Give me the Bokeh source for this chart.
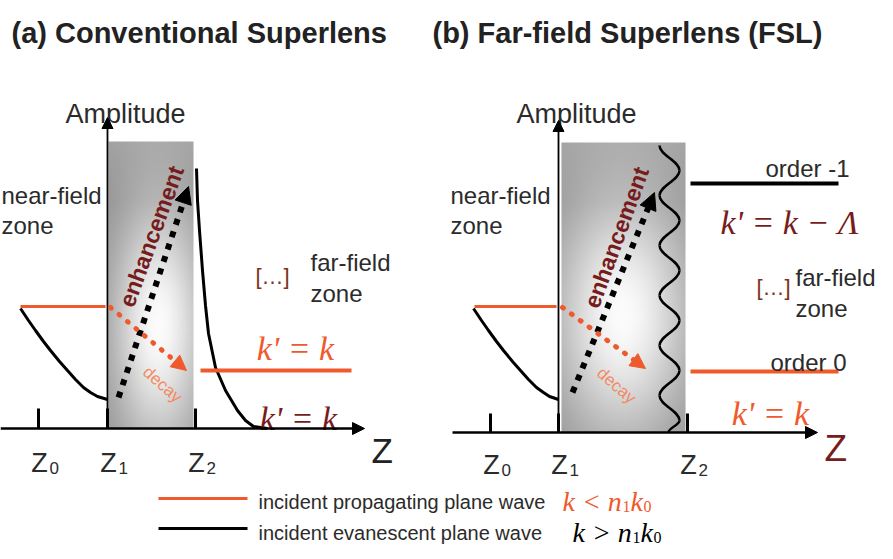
import numpy as np
from bokeh.plotting import figure
from bokeh.models import Range1d, Arrow, NormalHead
from bokeh.core.properties import value
from bokeh.embed import file_html
from bokeh.resources import INLINE

# ---------------- data (diagram coordinates) ----------------
titles = ["(a) Conventional Superlens", "(b) Far-field Superlens (FSL)"]
title_x = [11, 432]
title_y = [32, 32]

# amplitude axis (vertical) and Z axis (horizontal) per panel
amp_axis_x = [107, 558]
amp_axis_top = [117, 120]
z_axis_y = [428, 432]
z_axis_start = [0, 452]
z_axis_end = [364, 817]
amp_label_x = [125, 576]
amp_label_y = [113, 113]

# Z ticks
z_tick_a = [38, 107, 195]
z_tick_b = [490, 558, 687]
tick_top = [408, 413]
z_sub = ["0", "1", "2"]
z_label_y = [462, 464]

# big Z axis label
bigz_x = [371, 824]
bigz_y = [450, 448]

# slabs (lens)
slab_x0 = [108, 561]
slab_x1 = [193, 685]
slab_y0 = [141, 142]
slab_y1 = [428, 432]
slab_spot_x = [158, 622]
slab_spot_y = [325, 315]

# incident evanescent wave (black decay curve, left of lens)
ev_a_x = [20, 28, 35, 43, 50, 59, 67, 75, 83, 90, 97, 107]
ev_a_y = [308, 320, 330, 341, 350, 361, 370, 379, 387, 392, 396, 399]
ev_b_x = [473, 481, 488, 496, 503, 512, 520, 528, 536, 543, 549, 558]
ev_b_y = [308, 320, 330, 341, 350, 361, 370, 379, 387, 392, 396, 399]

# transmitted evanescent wave in (a)
tr_a_x = [196, 197, 199, 202, 205, 208, 215, 225, 237, 245, 253, 267]
tr_a_y = [168, 200, 230, 270, 305, 333, 367, 390, 410, 420, 426, 428]

# incident propagating wave (red level, left of lens)
prop_in_x0 = [20, 474]
prop_in_x1 = [105, 556]
prop_in_y = [306, 306]

# outgoing lines right of lens
out_red_x0 = [200, 690]
out_red_x1 = [351, 838]
out_red_y = [370, 371]
order1_x0 = [690]
order1_x1 = [838]
order1_y = [183]

# wave (grating) in (b): extreme points of the squiggle
wave_ext_y = [145, 170, 195, 220, 245, 270, 295, 320, 345, 370, 395, 420]
wave_ext_x = [659, 679, 659, 679, 659, 679, 659, 679, 659, 679, 659, 679]
wave_end = (668, 432)

# dotted arrows: enhancement (black) and decay (red)
enh_x0 = [118, 572]
enh_y0 = [397, 392]
enh_x1 = [188, 654]
enh_y1 = [186, 192]
dec_x0 = [110, 562]
dec_y0 = [307, 307]
dec_x1 = [186, 645]
dec_y1 = [370, 368]

enh_text_x = [151, 616]
enh_text_y = [236, 237]
dec_text_x = [162, 616]
dec_text_y = [384, 385]

# text labels
near_x = [1, 450]
near_y = [195, 195]
far_x = [310, 795]
far_y = [262, 277]
dots_x = [272, 773]
dots_y = [276, 287]

# legend
leg_x0 = 158
leg_x1 = 247
leg_y = [498, 528]
leg_text = ["incident propagating plane wave", "incident evanescent plane wave"]
leg_text_y = [501, 532]
leg_formula_main = ["k < n", "k > n"]
leg_formula_x = [562, 572]

RED = "#ef5a2c"
MAROON = "#761c1c"
TXT = "#2b2b2b"
SANS = value("Liberation Sans")
SERIF = value("Liberation Serif")

p = figure(width=893, height=559, x_range=Range1d(0, 893), y_range=Range1d(559, 0),
           output_backend="svg", toolbar_location=None, min_border=0,
           x_axis_location=None, y_axis_location=None)
p.grid.visible = False
p.outline_line_color = None
p.background_fill_color = "white"
p.border_fill_color = "white"

# ---------------- slabs with radial gradient ----------------
for i in range(2):
    x0, x1, y0, y1 = slab_x0[i], slab_x1[i], slab_y0[i], slab_y1[i]
    w, h = int(x1 - x0), int(y1 - y0)
    X, Y = np.meshgrid(x0 + np.arange(w) + 0.5, y0 + np.arange(h) + 0.5)
    rx = (x1 - x0) * 0.55
    g = 140 + 112 * np.exp(-(((X - slab_spot_x[i]) / rx) ** 2 + ((Y - slab_spot_y[i]) / 125.0) ** 2))
    top = np.clip((y0 + 60 - Y) / 60.0, 0, 1)
    g = g + 18 * top
    g = np.clip(g, 0, 255).astype(np.uint8)
    img = np.empty((h, w), dtype=np.uint32)
    v = img.view(dtype=np.uint8).reshape((h, w, 4))
    v[..., 0] = g
    v[..., 1] = g
    v[..., 2] = g
    v[..., 3] = 255
    p.image_rgba(image=[img], x=x0, y=y0, dw=x1 - x0, dh=y1 - y0)

# ---------------- axes ----------------
for i in range(2):
    p.add_layout(Arrow(end=NormalHead(size=11, fill_color="black", line_color="black"),
                       x_start=amp_axis_x[i], y_start=z_axis_y[i], x_end=amp_axis_x[i], y_end=amp_axis_top[i],
                       line_color="black", line_width=1.8))
    p.add_layout(Arrow(end=NormalHead(size=12, fill_color="black", line_color="black"),
                       x_start=z_axis_start[i], y_start=z_axis_y[i], x_end=z_axis_end[i], y_end=z_axis_y[i],
                       line_color="black", line_width=2.5))

for ticks, ax_y, tt, ly in [(z_tick_a, z_axis_y[0], tick_top[0], z_label_y[0]),
                            (z_tick_b, z_axis_y[1], tick_top[1], z_label_y[1])]:
    p.segment(x0=ticks, y0=[ax_y] * 3, x1=ticks, y1=[tt] * 3, line_color="black", line_width=3)
    p.text(x=[t + 1 for t in ticks], y=[ly] * 3, text=["Z"] * 3, text_font=SANS, text_font_size="27px",
           text_color=TXT, text_align="center", text_baseline="alphabetic")
    p.text(x=[t + 11 for t in ticks], y=[ly + 5] * 3, text=z_sub, text_font=SANS, text_font_size="17px",
           text_color=TXT, text_align="left", text_baseline="alphabetic")

p.text(x=bigz_x[:1], y=bigz_y[:1], text=["Z"], text_font=SANS, text_font_size="35px",
       text_color="#222222", text_align="left", text_baseline="alphabetic")
p.text(x=bigz_x[1:], y=bigz_y[1:], text=["Z"], text_font=SANS, text_font_size="37px",
       text_color=MAROON, text_align="left", text_baseline="alphabetic")

p.text(x=amp_label_x, y=amp_label_y, text=["Amplitude"] * 2, text_font=SANS, text_font_size="27px",
       text_color=TXT, text_align="center", text_baseline="alphabetic")

# ---------------- curves ----------------
p.line(ev_a_x, ev_a_y, line_color="black", line_width=3)
p.line(ev_b_x, ev_b_y, line_color="black", line_width=3)
p.line(tr_a_x, tr_a_y, line_color="black", line_width=3)

p.segment(x0=prop_in_x0, y0=prop_in_y, x1=prop_in_x1, y1=prop_in_y, line_color=RED, line_width=3)
p.segment(x0=out_red_x0, y0=out_red_y, x1=out_red_x1, y1=out_red_y, line_color=RED, line_width=4)
p.segment(x0=order1_x0, y0=order1_y, x1=order1_x1, y1=order1_y, line_color="black", line_width=4)

# squiggle in (b) made from cubic bezier halves between extremes
bx0, by0, bx1, by1, cx0, cy0, cx1, cy1 = [], [], [], [], [], [], [], []
pts = list(zip(wave_ext_x, wave_ext_y)) + [wave_end]
for (xa, ya), (xb, yb) in zip(pts[:-1], pts[1:]):
    c = (yb - ya) * 0.4
    bx0.append(xa); by0.append(ya); bx1.append(xb); by1.append(yb)
    cx0.append(xa); cy0.append(ya + c); cx1.append(xb); cy1.append(yb - c)
p.bezier(x0=bx0, y0=by0, x1=bx1, y1=by1, cx0=cx0, cy0=cy0, cx1=cx1, cy1=cy1,
         line_color="black", line_width=2.5)

# ---------------- dotted arrows ----------------
for i in range(2):
    p.add_layout(Arrow(end=NormalHead(size=17, fill_color="black", line_color="black"),
                       x_start=enh_x0[i], y_start=enh_y0[i], x_end=enh_x1[i], y_end=enh_y1[i],
                       line_color="black", line_width=6, line_dash="6 7"))
    p.add_layout(Arrow(end=NormalHead(size=15, fill_color=RED, line_color=RED),
                       x_start=dec_x0[i], y_start=dec_y0[i], x_end=dec_x1[i], y_end=dec_y1[i],
                       line_color=RED, line_width=5, line_dash="1 10", line_cap="round"))

p.text(x=enh_text_x, y=enh_text_y, text=["enhancement"] * 2, text_font=SANS, text_font_size="23px",
       text_font_style="bold", text_color=MAROON, text_align="center", text_baseline="middle",
       angle=1.22)
p.text(x=dec_text_x, y=dec_text_y, text=["decay"] * 2, text_font=SANS, text_font_size="17px",
       text_color="#f38a62", text_align="center", text_baseline="middle", angle=-0.72)

# ---------------- labels ----------------
p.text(x=near_x, y=near_y, text=["near-field"] * 2, text_font=SANS, text_font_size="24px",
       text_color=TXT, text_align="left", text_baseline="alphabetic")
p.text(x=near_x, y=[v + 30 for v in near_y], text=["zone"] * 2, text_font=SANS, text_font_size="24px",
       text_color=TXT, text_align="left", text_baseline="alphabetic")
p.text(x=far_x, y=far_y, text=["far-field"] * 2, text_font=SANS, text_font_size="24px",
       text_color=TXT, text_align="left", text_baseline="alphabetic")
p.text(x=far_x, y=[v + 31 for v in far_y], text=["zone"] * 2, text_font=SANS, text_font_size="24px",
       text_color=TXT, text_align="left", text_baseline="alphabetic")
p.text(x=dots_x, y=dots_y, text=["[\u2026]"] * 2, text_font=SANS, text_font_size="22px",
       text_color="#7a3420", text_align="center", text_baseline="middle")

p.text(x=[765], y=[168], text=["order -1"], text_font=SANS, text_font_size="24px",
       text_color=TXT, text_align="left", text_baseline="alphabetic")
p.text(x=[770], y=[362], text=["order 0"], text_font=SANS, text_font_size="24px",
       text_color=TXT, text_align="left", text_baseline="alphabetic")

p.text(x=[295, 770], y=[348, 413], text=["k' = k"] * 2, text_font=SERIF, text_font_size="34px",
       text_font_style="italic", text_color=RED, text_align="center", text_baseline="alphabetic")
p.text(x=[298], y=[418], text=["k' = k"], text_font=SERIF, text_font_size="34px",
       text_font_style="italic", text_color=MAROON, text_align="center", text_baseline="alphabetic")
p.text(x=[789], y=[222], text=["k' = k \u2212 \u039b"], text_font=SERIF, text_font_size="34px",
       text_font_style="italic", text_color=MAROON, text_align="center", text_baseline="alphabetic")

# ---------------- titles ----------------
p.text(x=title_x, y=title_y, text=titles, text_font=SANS, text_font_size="29px", text_font_style="bold",
       text_color="#222222", text_align="left", text_baseline="alphabetic")

# ---------------- legend ----------------
leg_colors = [RED, "black"]
p.segment(x0=[leg_x0] * 2, y0=leg_y, x1=[leg_x1] * 2, y1=leg_y, line_color=leg_colors, line_width=3)
p.text(x=[258, 258], y=leg_text_y, text=leg_text, text_font=SANS, text_font_size="20px",
       text_color=TXT, text_align="left", text_baseline="alphabetic")
p.text(x=leg_formula_x, y=leg_text_y, text=leg_formula_main, text_font=SERIF, text_font_size="28px",
       text_font_style="italic", text_color=leg_colors, text_align="left", text_baseline="alphabetic")
p.text(x=[v + 60 for v in leg_formula_x], y=[v + 5 for v in leg_text_y], text=["1", "1"], text_font=SERIF,
       text_font_size="16px", text_color=leg_colors, text_align="left", text_baseline="alphabetic")
p.text(x=[v + 68 for v in leg_formula_x], y=leg_text_y, text=["k", "k"], text_font=SERIF, text_font_size="28px",
       text_font_style="italic", text_color=leg_colors, text_align="left", text_baseline="alphabetic")
p.text(x=[v + 81 for v in leg_formula_x], y=[v + 5 for v in leg_text_y], text=["0", "0"], text_font=SERIF,
       text_font_size="16px", text_color=leg_colors, text_align="left", text_baseline="alphabetic")

open("out.html", "w").write(file_html(p, INLINE))
